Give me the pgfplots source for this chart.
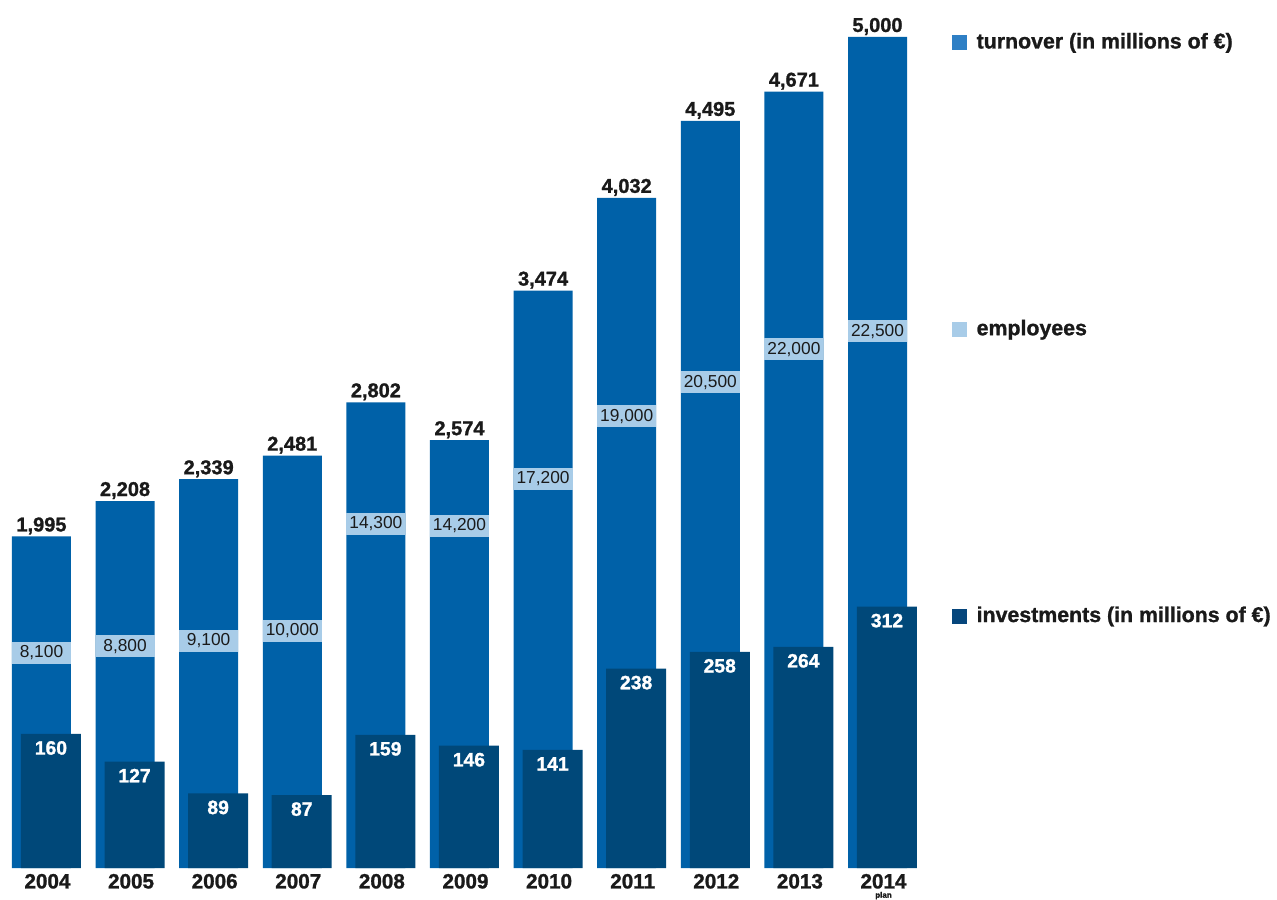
\documentclass[border=0pt]{standalone}
\usepackage{pgfplots}
\pgfplotsset{compat=1.18}
\usepackage{pgfplotstable}
\usepackage{fontspec}
\setmainfont{Liberation Sans}[BoldFeatures={FakeBold=1.2}]
\definecolor{turnc}{HTML}{0061A8}
\definecolor{invc}{HTML}{004879}
\definecolor{bandc}{HTML}{A8CCE8}
\definecolor{turnleg}{HTML}{2E7FC5}
\definecolor{invleg}{HTML}{06467C}
\definecolor{textc}{HTML}{1A1A1A}

\pgfplotstableread{
i turn inv emp pos
0 1995 160 8100 1295
1 2208 127 8800 1334
2 2339 89 9100 1367
3 2481 87 10000 1428
4 2802 159 14300 2072
5 2574 146 14200 2060
6 3474 141 17200 2343
7 4032 238 19000 2717
8 4495 258 20500 2922
9 4671 264 22000 3120
10 5000 312 22500 3229
}\data

\begin{document}
\begin{tikzpicture}
\useasboundingbox (0pt,-23.25pt) rectangle (957.75pt,651pt);
\begin{axis}[
  at={(0pt,0pt)}, anchor=south west, scale only axis,
  width=697.5pt, height=637.5pt,
  xmin=-0.496, xmax=10.628, ymin=0, ymax=5114,
  ybar, bar width=44.25pt,
  axis line style={draw=none}, tick style={draw=none}, ytick=\empty,
  xtick={0,...,10},
  xticklabels={2004,2005,2006,2007,2008,2009,2010,2011,2012,2013,{2014\\[-8.5pt]\fontsize{6}{6}\selectfont plan}},
  xticklabel style={font=\fontsize{15.5}{15.5}\selectfont\bfseries, inner sep=0pt, anchor=north, yshift=0pt, xshift=4.5pt, align=center, text=textc},
  clip=false,
  legend style={at={(1.0194,0.986)}, anchor=north west, draw=none, fill=none,
    font=\fontsize{16}{16}\selectfont\bfseries, text=textc,
    row sep=200pt, nodes={inner sep=0pt, text height=11.7pt, text depth=3.4pt},
    /tikz/every odd column/.append style={column sep=7pt}},
  legend cell align=left,
  /pgf/number format/fixed, /pgf/number format/precision=0,
  /pgf/number format/1000 sep={,}, /pgf/number format/assume math mode=true,
]
\addplot[fill=turnc, draw=none, bar shift=0pt, bar width=44.25pt,
  nodes near coords, point meta=y,
  nodes near coords style={anchor=base, yshift=3.75pt, inner sep=0pt, text=textc, font=\fontsize{15}{15}\selectfont\bfseries},
  legend image code/.code={\fill[turnleg] (0pt,-5.6pt) rectangle (11.25pt,5.6pt);}]
  table[x=i, y=turn] {\data};
\addlegendentry{turnover (in millions of €)}
\addplot[draw=none, fill=none, bar shift=0pt, bar width=44.25pt,
  nodes near coords, point meta=explicit,
  nodes near coords style={anchor=center, fill=bandc, minimum width=44.25pt, minimum height=16.5pt, inner sep=0pt, text=textc, font=\fontsize{13}{13}\selectfont},
  legend image code/.code={\fill[bandc] (0pt,-5.6pt) rectangle (11.25pt,5.6pt);}]
  table[x=i, y=pos, meta=emp] {\data};
\addlegendentry{employees}
\addplot[fill=invc, draw=none, bar shift=7.1pt, bar width=45pt,
  nodes near coords, point meta=explicit,
  nodes near coords style={anchor=center, yshift=-10.5pt, inner sep=0pt, text=white, font=\fontsize{14.5}{14.5}\selectfont\bfseries},
  legend image code/.code={\fill[invleg] (0pt,-5.6pt) rectangle (11.25pt,5.6pt);}]
  table[x=i, y expr=\thisrow{inv}*5.04, meta=inv] {\data};
\addlegendentry{investments (in millions of €)}
\end{axis}
\end{tikzpicture}
\end{document}
